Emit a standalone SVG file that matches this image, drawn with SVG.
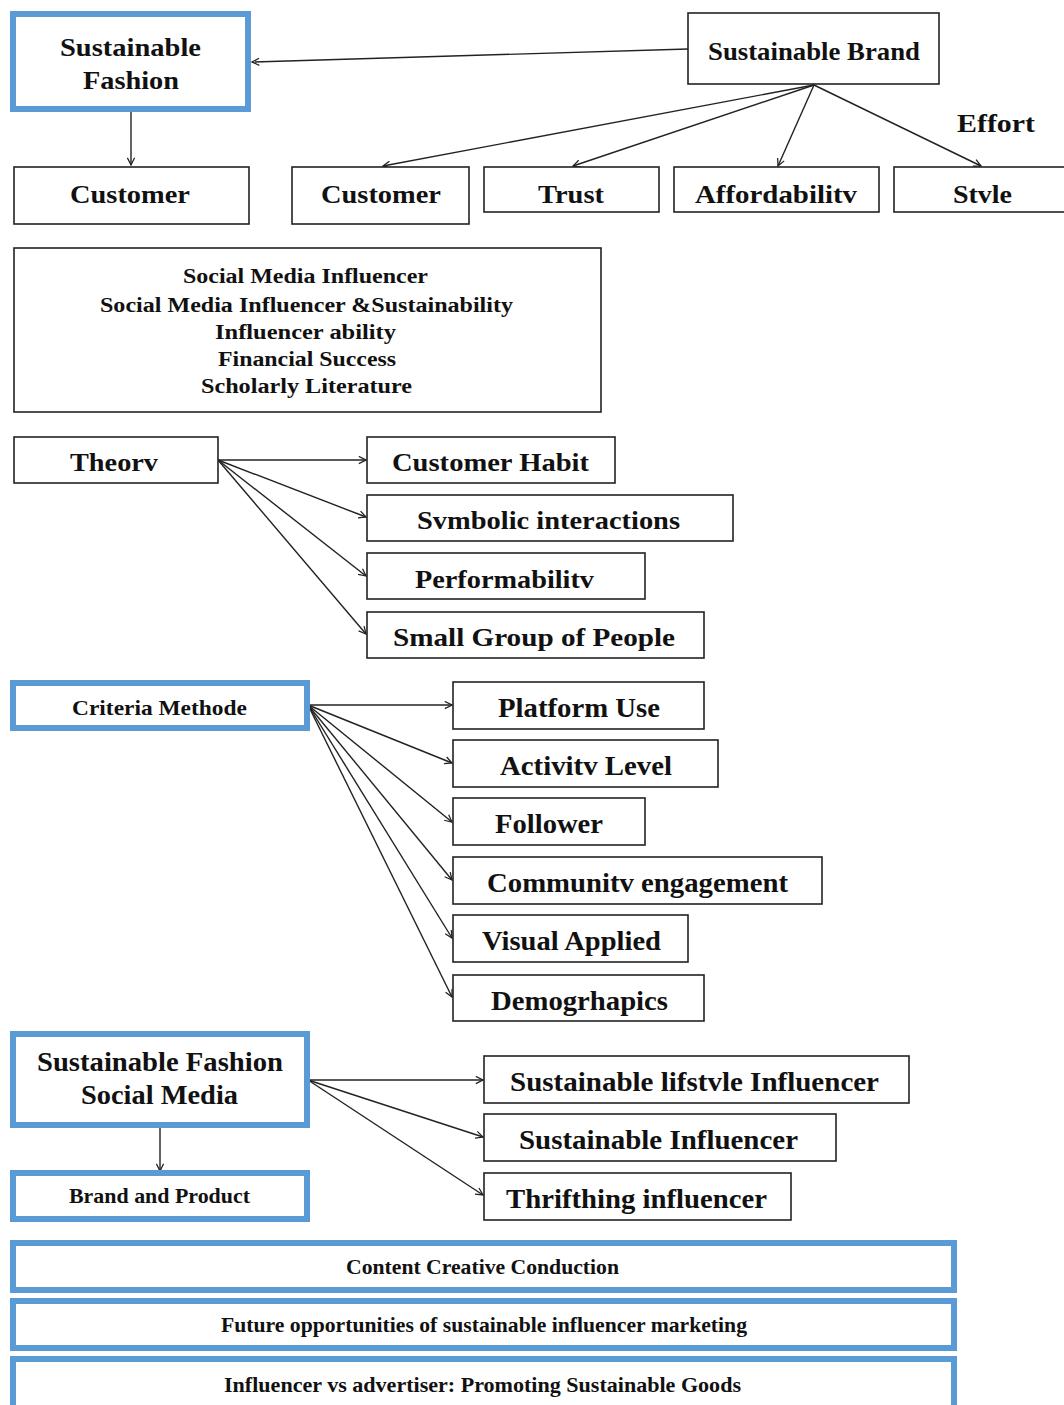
<svg xmlns="http://www.w3.org/2000/svg" width="1064" height="1405" viewBox="0 0 1064 1405">
<style>
.bx{fill:#fff;stroke:#222;stroke-width:1.6}
.bl{fill:#fff;stroke:#5b9bd5;stroke-width:6}
.t{font-family:"Liberation Serif","Times New Roman",serif;font-weight:bold;fill:#111}
.c{stroke:#222;stroke-width:1.4;fill:none;marker-end:url(#ah)}
.n{stroke:#222;stroke-width:1.4;fill:none}
</style>
<defs>
<marker id="ah" viewBox="0 0 10 10" refX="9" refY="5" markerWidth="9" markerHeight="9" markerUnits="userSpaceOnUse" orient="auto">
<path d="M1,1 L9,5 L1,9" fill="none" stroke="#222" stroke-width="1.4"/>
</marker>
</defs>
<rect width="1064" height="1405" fill="#fff"/>

<g id="connectors">
<line class="c" x1="688" y1="49" x2="252" y2="62"/>
<line class="c" x1="131" y1="112" x2="131" y2="165"/>
<line class="c" x1="814" y1="85" x2="383" y2="166"/>
<line class="c" x1="814" y1="85" x2="573" y2="166"/>
<line class="c" x1="814" y1="85" x2="778" y2="166"/>
<line class="c" x1="814" y1="85" x2="981" y2="166"/>
<line class="c" x1="218" y1="460" x2="366" y2="460"/>
<line class="c" x1="218" y1="460" x2="366" y2="517"/>
<line class="c" x1="218" y1="460" x2="366" y2="576"/>
<line class="c" x1="218" y1="460" x2="366" y2="634"/>
<line class="c" x1="308" y1="705" x2="452" y2="705"/>
<line class="c" x1="308" y1="705" x2="452" y2="763"/>
<line class="c" x1="308" y1="705" x2="452" y2="822"/>
<line class="c" x1="308" y1="705" x2="452" y2="880"/>
<line class="c" x1="308" y1="705" x2="452" y2="938"/>
<line class="c" x1="308" y1="705" x2="452" y2="997"/>
<line class="c" x1="308" y1="1080" x2="483" y2="1080"/>
<line class="c" x1="308" y1="1080" x2="483" y2="1137"/>
<line class="c" x1="308" y1="1080" x2="483" y2="1195"/>
<line class="c" x1="160" y1="1128" x2="160" y2="1171"/>
</g>

<g id="sustainable-fashion">
<rect class="bl" x="13" y="14" width="235" height="95"/>
<text class="t" x="60" y="56" font-size="25" textLength="141" lengthAdjust="spacingAndGlyphs">Sustainable</text>
<text class="t" x="83" y="89" font-size="25" textLength="96" lengthAdjust="spacingAndGlyphs">Fashion</text>
</g>
<g id="sustainable-brand">
<rect class="bx" x="688" y="13" width="251" height="71"/>
<text class="t" x="708" y="60" font-size="25" textLength="212" lengthAdjust="spacingAndGlyphs">Sustainable Brand</text>
</g>
<g id="customer-1">
<rect class="bx" x="14" y="167" width="235" height="57"/>
<text class="t" x="70" y="203" font-size="26" textLength="120" lengthAdjust="spacingAndGlyphs">Customer</text>
</g>
<g id="customer-2">
<rect class="bx" x="292" y="167" width="177" height="57"/>
<text class="t" x="321" y="203" font-size="26" textLength="120" lengthAdjust="spacingAndGlyphs">Customer</text>
</g>
<g id="trust">
<rect class="bx" x="484" y="167" width="175" height="45"/>
<text class="t" x="538" y="203" font-size="26" textLength="66" lengthAdjust="spacingAndGlyphs">Trust</text>
</g>
<g id="affordability">
<rect class="bx" x="674" y="167" width="205" height="45"/>
<text class="t" x="695" y="203" font-size="26" textLength="162" lengthAdjust="spacingAndGlyphs">Affordabilitv</text>
</g>
<g id="style">
<rect class="bx" x="894" y="167" width="180" height="45"/>
<text class="t" x="953" y="203" font-size="26" textLength="59" lengthAdjust="spacingAndGlyphs">Stvle</text>
</g>
<g id="effort">
<text class="t" x="957" y="132" font-size="26" textLength="78" lengthAdjust="spacingAndGlyphs">Effort</text>
</g>

<g id="literature-box">
<rect class="bx" x="14" y="248" width="587" height="164"/>
<text class="t" x="183" y="283" font-size="20" textLength="245" lengthAdjust="spacingAndGlyphs">Social Media Influencer</text>
<text class="t" x="100" y="312" font-size="20" textLength="413" lengthAdjust="spacingAndGlyphs">Social Media Influencer &amp;Sustainability</text>
<text class="t" x="215" y="339" font-size="20" textLength="181" lengthAdjust="spacingAndGlyphs">Influencer ability</text>
<text class="t" x="218" y="366" font-size="20" textLength="178" lengthAdjust="spacingAndGlyphs">Financial Success</text>
<text class="t" x="201" y="393" font-size="20" textLength="211" lengthAdjust="spacingAndGlyphs">Scholarly Literature</text>
</g>

<g id="theory">
<rect class="bx" x="14" y="437" width="204" height="46"/>
<text class="t" x="70" y="471" font-size="26" textLength="88" lengthAdjust="spacingAndGlyphs">Theorv</text>
</g>
<g id="customer-habit">
<rect class="bx" x="367" y="437" width="248" height="46"/>
<text class="t" x="392" y="471" font-size="26" textLength="197" lengthAdjust="spacingAndGlyphs">Customer Habit</text>
</g>
<g id="symbolic-interactions">
<rect class="bx" x="367" y="495" width="366" height="46"/>
<text class="t" x="417" y="529" font-size="26" textLength="263" lengthAdjust="spacingAndGlyphs">Svmbolic interactions</text>
</g>
<g id="performability">
<rect class="bx" x="367" y="553" width="278" height="46"/>
<text class="t" x="415" y="588" font-size="26" textLength="179" lengthAdjust="spacingAndGlyphs">Performabilitv</text>
</g>
<g id="small-group">
<rect class="bx" x="367" y="612" width="337" height="46"/>
<text class="t" x="393" y="646" font-size="26" textLength="282" lengthAdjust="spacingAndGlyphs">Small Group of People</text>
</g>

<g id="criteria-methode">
<rect class="bl" x="13" y="683" width="294" height="45"/>
<text class="t" x="72" y="715" font-size="21" textLength="175" lengthAdjust="spacingAndGlyphs">Criteria Methode</text>
</g>
<g id="platform-use">
<rect class="bx" x="453" y="682" width="251" height="47"/>
<text class="t" x="498" y="717" font-size="27" textLength="162" lengthAdjust="spacingAndGlyphs">Platform Use</text>
</g>
<g id="activity-level">
<rect class="bx" x="453" y="740" width="265" height="47"/>
<text class="t" x="500" y="775" font-size="27" textLength="172" lengthAdjust="spacingAndGlyphs">Activitv Level</text>
</g>
<g id="follower">
<rect class="bx" x="453" y="798" width="192" height="47"/>
<text class="t" x="495" y="833" font-size="27" textLength="108" lengthAdjust="spacingAndGlyphs">Follower</text>
</g>
<g id="community-engagement">
<rect class="bx" x="453" y="857" width="369" height="47"/>
<text class="t" x="487" y="892" font-size="27" textLength="301" lengthAdjust="spacingAndGlyphs">Communitv engagement</text>
</g>
<g id="visual-applied">
<rect class="bx" x="453" y="915" width="235" height="47"/>
<text class="t" x="482" y="950" font-size="27" textLength="179" lengthAdjust="spacingAndGlyphs">Visual Applied</text>
</g>
<g id="demographics">
<rect class="bx" x="453" y="975" width="251" height="46"/>
<text class="t" x="491" y="1010" font-size="27" textLength="177" lengthAdjust="spacingAndGlyphs">Demogrhapics</text>
</g>

<g id="sf-social-media">
<rect class="bl" x="13" y="1034" width="294" height="91"/>
<text class="t" x="37" y="1071" font-size="27" textLength="246" lengthAdjust="spacingAndGlyphs">Sustainable Fashion</text>
<text class="t" x="81" y="1104" font-size="27" textLength="157" lengthAdjust="spacingAndGlyphs">Social Media</text>
</g>
<g id="brand-product">
<rect class="bl" x="13" y="1173" width="294" height="46"/>
<text class="t" x="69" y="1203" font-size="21" textLength="181" lengthAdjust="spacingAndGlyphs">Brand and Product</text>
</g>
<g id="lifestyle-influencer">
<rect class="bx" x="484" y="1056" width="425" height="47"/>
<text class="t" x="510" y="1091" font-size="27" textLength="369" lengthAdjust="spacingAndGlyphs">Sustainable lifstvle  Influencer</text>
</g>
<g id="sustainable-influencer">
<rect class="bx" x="484" y="1114" width="352" height="47"/>
<text class="t" x="519" y="1149" font-size="27" textLength="279" lengthAdjust="spacingAndGlyphs">Sustainable Influencer</text>
</g>
<g id="thrifting-influencer">
<rect class="bx" x="484" y="1173" width="307" height="47"/>
<text class="t" x="506" y="1208" font-size="27" textLength="261" lengthAdjust="spacingAndGlyphs">Thrifthing influencer</text>
</g>

<g id="content-creative">
<rect class="bl" x="13" y="1243" width="941" height="47"/>
<text class="t" x="346" y="1274" font-size="21" textLength="273" lengthAdjust="spacingAndGlyphs">Content Creative Conduction</text>
</g>
<g id="future-opportunities">
<rect class="bl" x="13" y="1301" width="941" height="47"/>
<text class="t" x="221" y="1332" font-size="21" textLength="526" lengthAdjust="spacingAndGlyphs">Future opportunities of sustainable influencer marketing</text>
</g>
<g id="influencer-vs-advertiser">
<rect class="bl" x="13" y="1359" width="941" height="60"/>
<text class="t" x="224" y="1392" font-size="21" textLength="517" lengthAdjust="spacingAndGlyphs">Influencer vs advertiser:  Promoting Sustainable Goods</text>
</g>
</svg>
